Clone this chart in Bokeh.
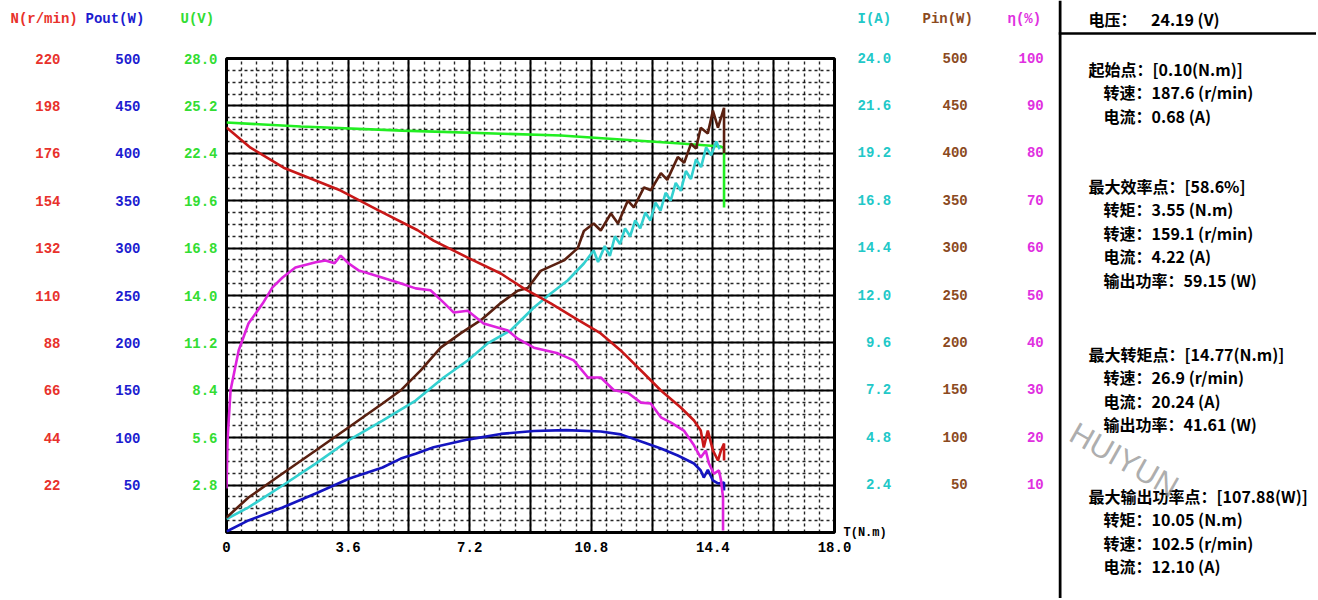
from bokeh.plotting import figure
from bokeh.models import (Range1d, LinearAxis, FixedTicker, Label, CustomJSTickFormatter,
                          PrintfTickFormatter, Span)
from bokeh.layouts import row, column
from bokeh.embed import file_html
from bokeh.resources import INLINE
from bokeh.core.properties import value
import numpy as np

# ---------------- data ----------------
x_ticks = [0, 3.6, 7.2, 10.8, 14.4, 18.0]
x_tick_labels = ["0", "3.6", "7.2", "10.8", "14.4", "18.0"]
x_title = "T(N.m)"
n_ticks = [22, 44, 66, 88, 110, 132, 154, 176, 198, 220]
pout_ticks = [50, 100, 150, 200, 250, 300, 350, 400, 450, 500]
u_ticks = [2.8, 5.6, 8.4, 11.2, 14.0, 16.8, 19.6, 22.4, 25.2, 28.0]
i_ticks = [2.4, 4.8, 7.2, 9.6, 12.0, 14.4, 16.8, 19.2, 21.6, 24.0]
pin_ticks = [50, 100, 150, 200, 250, 300, 350, 400, 450, 500]
eta_ticks = [10, 20, 30, 40, 50, 60, 70, 80, 90, 100]
axis_titles = ["N(r/min)", "Pout(W)", "U(V)", "I(A)", "Pin(W)", "η(%)"]

# speed N (r/min)
n_torque = [0.0, 0.71, 1.69, 3.38, 4.5, 5.66, 6.13, 7.14, 8.12, 8.8, 9.6, 10.28, 11.08, 11.67,
            12.36, 12.86, 13.45, 13.84, 14.04, 14.13, 14.25, 14.4, 14.55, 14.64, 14.73, 14.73]
n_speed = [188.0, 178.6, 169.3, 158.7, 149.5, 140.3, 135.5, 127.6, 120.2, 113.3, 106.3, 99.8, 92.4, 84.5,
           73.8, 65.9, 58.0, 52.0, 47.3, 39.5, 47.3, 38.1, 33.4, 38.1, 41.3, 33.4]

# output power (W)
pout_torque = [0.0, 0.65, 1.66, 2.64, 3.64, 4.62, 5.16, 5.6, 6.13, 7.14, 8.12, 9.1, 10.05, 11.08, 11.67,
               12.36, 12.86, 13.36, 13.84, 14.04, 14.13, 14.25, 14.4, 14.55, 14.73, 14.73]
pout_values = [1.0, 12.7, 26.4, 41.1, 57.0, 68.6, 78.0, 83.0, 90.0, 98.0, 104.0, 107.0, 108.0, 106.5, 103.5,
               95.0, 88.6, 81.2, 72.8, 65.4, 58.0, 66.0, 54.9, 51.7, 52.7, 44.3]

# voltage U (V)
u_torque = [0.0, 2.2, 5.2, 9.9, 13.45, 14.64, 14.73, 14.73]
u_values = [24.22, 23.98, 23.74, 23.45, 22.98, 22.8, 22.7, 19.2]

# current I (A)
i_torque = [0.0, 0.65, 1.66, 2.64, 3.61, 4.62, 5.6, 6.43, 7.14, 7.73, 8.41, 9.1, 9.6, 10.1, 10.58, 10.87,
            11.0, 11.2, 11.35, 11.5, 11.65, 11.8, 11.95, 12.1, 12.25, 12.4, 12.55, 12.7, 12.85, 13.0,
            13.15, 13.3, 13.45, 13.6, 13.75, 13.9, 14.05, 14.2, 14.35, 14.5, 14.6]
i_values = [0.68, 1.27, 2.38, 3.49, 4.66, 5.67, 6.68, 7.85, 8.71, 9.57, 10.23, 11.39, 12.1, 12.76, 13.62, 14.28,
            13.7, 14.5, 14.0, 15.0, 14.6, 15.4, 15.0, 15.8, 15.4, 16.2, 15.8, 16.7, 16.3, 17.2,
            16.8, 17.7, 17.3, 18.3, 17.9, 18.9, 18.5, 19.5, 19.1, 19.8, 19.4]

# input power (W)
pin_torque = [0.0, 0.65, 1.66, 2.64, 3.61, 4.62, 5.16, 5.75, 6.34, 6.93, 7.53, 8.12, 8.62, 8.92, 9.3, 9.99,
              10.4, 10.58, 10.87, 11.08, 11.38, 11.59, 11.88, 12.06, 12.36, 12.56, 12.86, 13.05, 13.36,
              13.55, 13.75, 13.9, 14.04, 14.25, 14.4, 14.55, 14.73, 14.73]
pin_values = [15.8, 36.9, 62.2, 86.5, 110.8, 136.1, 150.0, 171.0, 195.0, 210.0, 224.0, 242.0, 255.0, 258.0,
              276.0, 287.0, 300.0, 318.0, 326.0, 318.6, 336.5, 326.0, 350.0, 343.0, 364.0, 361.0, 379.0,
              372.0, 396.0, 390.0, 410.0, 405.0, 427.0, 421.0, 445.0, 427.0, 448.0, 400.0]

# efficiency (%)
eta_torque = [0.0, 0.03, 0.12, 0.36, 0.65, 1.07, 1.36, 1.66, 2.04, 2.64, 2.93, 3.2, 3.38, 3.61, 3.91, 4.41,
              5.1, 5.6, 6.04, 6.43, 6.73, 7.14, 7.61, 8.33, 8.62, 9.1, 9.81, 10.28, 10.7, 11.08, 11.47,
              11.88, 12.27, 12.56, 12.86, 13.16, 13.54, 13.84, 14.04, 14.19, 14.28, 14.43, 14.58, 14.64,
              14.7, 14.7]
eta_values = [9.3, 19.4, 30.0, 38.4, 44.1, 48.3, 51.7, 53.8, 55.9, 57.0, 57.4, 56.8, 58.4, 56.8, 55.3, 54.2,
              52.7, 51.5, 51.1, 48.5, 46.4, 46.8, 44.1, 42.6, 40.9, 39.0, 37.8, 36.3, 32.7, 32.7, 30.0,
              29.5, 27.4, 27.2, 24.3, 23.2, 21.5, 18.4, 15.8, 17.3, 14.6, 12.4, 13.1, 11.0,
              7.4, 0.4]

info_voltage = "电压：\u00a0\u00a0\u00a0\u00a024.19 (V)"
info_groups = [
    ("起始点：[0.10(N.m)]", ["转速：187.6 (r/min)", "电流：0.68 (A)"]),
    ("最大效率点：[58.6%]", ["转矩：3.55 (N.m)", "转速：159.1 (r/min)", "电流：4.22 (A)",
                          "输出功率：59.15 (W)"]),
    ("最大转矩点：[14.77(N.m)]", ["转速：26.9 (r/min)", "电流：20.24 (A)", "输出功率：41.61 (W)"]),
    ("最大输出功率点：[107.88(W)]", ["转矩：10.05 (N.m)", "转速：102.5 (r/min)", "电流：12.10 (A)"]),
]
watermark = "HUIYUN"

# ---------------- styles / layout ----------------
MONO = "Liberation Mono"
C_N, C_POUT, C_U = "#e8312b", "#1c1cd0", "#33dd33"
C_I, C_PIN, C_ETA = "#22c8c8", "#8b4a1e", "#e030e0"
L_N, L_POUT, L_U = "#c81818", "#1414c0", "#22ee22"
L_I, L_PIN, L_ETA = "#33d0d0", "#5a2010", "#dd22dd"
title_colors = [C_N, C_POUT, C_U, C_I, C_PIN, C_ETA]
title_left = [10, 85, 180, 857, 922, 1007]

W1, W2 = 1058, 258
H_HEAD, H_MAIN = 36, 562
FRAME_L, FRAME_W, FRAME_H = 226, 608, 474
FRAME_T = 58 - H_HEAD

# ---------- header strip with the axis titles ----------
hdr = figure(width=W1, height=H_HEAD, x_range=Range1d(0, W1), y_range=Range1d(H_HEAD, 0),
             output_backend="svg", toolbar_location=None, x_axis_type=None, y_axis_type=None,
             min_border_left=0, min_border_right=0, min_border_top=0, min_border_bottom=0)
hdr.outline_line_color = None
hdr.grid.visible = False
hdr.background_fill_color = "white"
hdr.border_fill_color = "white"
hdr.text(x=title_left, y=[18] * len(axis_titles), text=axis_titles, text_color=title_colors,
         text_font=value(MONO), text_font_style="bold", text_font_size="14px",
         text_baseline="middle", text_align="left")

# ---------- main chart ----------
p = figure(width=W1, height=H_MAIN, x_range=Range1d(0, 18), y_range=Range1d(0, 28),
           output_backend="svg", toolbar_location=None,
           min_border_left=FRAME_L, min_border_top=FRAME_T,
           min_border_right=W1 - FRAME_L - FRAME_W, min_border_bottom=H_MAIN - FRAME_T - FRAME_H)
p.background_fill_color = "white"
p.border_fill_color = "white"
p.outline_line_color = "black"
p.outline_line_width = 3

p.extra_y_ranges = {"n": Range1d(0, 220), "pout": Range1d(0, 500), "i": Range1d(0, 24),
                    "pin": Range1d(0, 500), "eta": Range1d(0, 100)}


def style_axis(ax, color, standoff, size="14px"):
    ax.axis_line_color = None
    ax.major_tick_line_color = None
    ax.minor_tick_line_color = None
    ax.major_tick_out = 0
    ax.major_tick_in = 0
    ax.minor_tick_out = 0
    ax.minor_tick_in = 0
    ax.major_label_text_font = MONO
    ax.major_label_text_font_style = "bold"
    ax.major_label_text_font_size = size
    ax.major_label_text_color = color
    ax.major_label_standoff = standoff


xa = p.xaxis[0]
xa.ticker = FixedTicker(ticks=x_ticks)
xa.major_label_overrides = {t: s for t, s in zip(x_ticks, x_tick_labels)}
style_axis(xa, "black", 9)

# left axes (nearest the frame first)
ua = p.yaxis[0]
ua.ticker = FixedTicker(ticks=u_ticks)
ua.formatter = PrintfTickFormatter(format="%.1f")
style_axis(ua, C_U, 9)

pa = LinearAxis(y_range_name="pout", ticker=FixedTicker(ticks=pout_ticks))
style_axis(pa, C_POUT, 40)
p.add_layout(pa, "left")

na = LinearAxis(y_range_name="n", ticker=FixedTicker(ticks=n_ticks))
style_axis(na, C_N, 52)
p.add_layout(na, "left")

# right side: torque-axis caption at the foot of the frame, then I, Pin, eta
ta = LinearAxis(y_range_name="i", ticker=FixedTicker(ticks=[0]), major_label_overrides={0: x_title})
style_axis(ta, "black", 9, "12px")
p.add_layout(ta, "right")

ia = LinearAxis(y_range_name="i", ticker=FixedTicker(ticks=i_ticks),
                formatter=CustomJSTickFormatter(code="return tick.toFixed(1).padStart(4, '\u00a0');"))
style_axis(ia, C_I, -32)
p.add_layout(ia, "right")

pia = LinearAxis(y_range_name="pin", ticker=FixedTicker(ticks=pin_ticks),
                 formatter=CustomJSTickFormatter(code="return String(Math.round(tick)).padStart(3, '\u00a0');"))
style_axis(pia, C_PIN, 48)
p.add_layout(pia, "right")

ea = LinearAxis(y_range_name="eta", ticker=FixedTicker(ticks=eta_ticks),
                formatter=CustomJSTickFormatter(code="return String(Math.round(tick)).padStart(3, '\u00a0');"))
style_axis(ea, C_ETA, 48)
p.add_layout(ea, "right")

# grid: one solid line per cell, dashed subdivisions
x_grid = np.linspace(0, 18, 11)
y_grid = np.linspace(0, 28, 11)
x_minor = np.linspace(0, 18, 41)
y_minor = np.linspace(0, 28, 41)
p.xgrid.ticker = FixedTicker(ticks=list(x_grid), minor_ticks=list(x_minor))
p.ygrid.ticker = FixedTicker(ticks=list(y_grid), minor_ticks=list(y_minor))
for g in (p.xgrid[0], p.ygrid[0]):
    g.grid_line_color = "black"
    g.grid_line_width = 2
    g.minor_grid_line_color = "black"
    g.minor_grid_line_width = 1.4
    g.minor_grid_line_dash = "3 3"
    g.minor_grid_line_alpha = 0.85

LW = 2.6
p.line(u_torque, u_values, color=L_U, line_width=LW)
p.line(pout_torque, pout_values, y_range_name="pout", color=L_POUT, line_width=LW)
p.line(i_torque, i_values, y_range_name="i", color=L_I, line_width=LW)
p.line(pin_torque, pin_values, y_range_name="pin", color=L_PIN, line_width=LW)
p.line(eta_torque, eta_values, y_range_name="eta", color=L_ETA, line_width=LW)
p.line(n_torque, n_speed, y_range_name="n", color=L_N, line_width=LW)

# ---------- info panel ----------
H2 = H_HEAD + H_MAIN
q = figure(width=W2, height=H2, x_range=Range1d(0, W2), y_range=Range1d(H2, 0),
           output_backend="svg", toolbar_location=None, x_axis_type=None, y_axis_type=None,
           min_border_left=0, min_border_right=0, min_border_top=0, min_border_bottom=0)
q.outline_line_color = None
q.grid.visible = False
q.background_fill_color = "white"
q.border_fill_color = "white"
q.add_layout(Span(location=1.5, dimension="height", line_color="black", line_width=3))
q.add_layout(Span(location=33, dimension="width", line_color="black", line_width=2.5))

HEAD_X, SUB_X, STEP = 30, 45, 23.5
group_top = [68, 185, 353, 495]
tx, ty, tt = [HEAD_X], [18], [info_voltage]
for (head, subs), top in zip(info_groups, group_top):
    tx.append(HEAD_X); ty.append(top); tt.append(head)
    for k, s in enumerate(subs):
        tx.append(SUB_X); ty.append(top + STEP * (k + 1)); tt.append(s)

# watermark (screen units measured upward from the bottom of the panel)
q.add_layout(Label(x=14, y=H2 - 430, x_units="screen", y_units="screen", text=watermark,
                   text_font="Liberation Sans", text_font_size="31px", text_color="#8a8a8a",
                   text_alpha=0.7, angle=-0.515, text_baseline="middle", text_align="left"))

q.text(x=tx, y=ty, text=tt, text_font=value("Noto Sans CJK SC"), text_font_style="bold",
       text_font_size="16px", text_color="black", text_baseline="middle", text_align="left")

layout = row(column(row(hdr), p), q)
open("out.html", "w").write(file_html(layout, INLINE))
